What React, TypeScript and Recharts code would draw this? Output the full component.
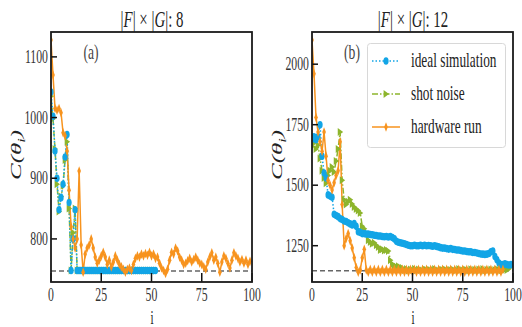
import { LineChart, Line, XAxis, YAxis, ReferenceLine } from 'recharts';

// ---- data ----
const LEFT_IDEAL = [1042, 1002, 945, 900, 848, 868, 890, 935, 972, 860, 748, 800, 848, 748,
  748, 748, 748, 748, 748, 748, 748, 748, 748, 748, 748, 748, 748, 748, 748, 748, 748, 748, 748,
  748, 748, 748, 748, 748, 748, 748, 748, 748, 748, 748, 748, 748, 748, 748, 748, 748, 748, 748, 748];
const LEFT_SHOT = [1035, 998, 948, 890, 845, 870, 888, 930, 960, 850, 748, 810, 850, 748,
  748, 748, 748, 748, 748, 748, 748, 748, 748, 748, 748, 748, 748, 748, 748, 748, 748, 748, 748,
  748, 748, 748, 748, 748, 748, 748, 748, 748, 748, 748, 748, 748, 748, 748, 748, 748, 748, 748, 748];
const LEFT_HW = [1128, 1070, 1015, 1012, 1015, 1008, 975, 970, 945, 880, 820, 800, 785, 800, 912,
  790, 745, 775, 785, 790, 800, 785, 770, 760, 765, 772, 778, 770, 758, 765, 754, 762, 772, 765,
  758, 754, 750, 745, 750, 752, 748, 758, 768, 772, 770, 775, 772, 776, 773, 778, 772, 775, 768,
  770, 760, 752, 748, 743, 750, 765, 778, 775, 785, 780, 770, 765, 758, 760, 764, 768, 762, 766,
  770, 765, 760, 758, 754, 750, 762, 770, 777, 765, 770, 760, 745, 762, 772, 768, 760, 752, 765,
  777, 772, 768, 762, 766, 760, 765, 758, 763];

const RIGHT_IDEAL = [1690, 1700, 1688, 1700, 1750, 1620, 1550, 1530, 1460, 1455, 1450, 1380, 1375,
  1370, 1362, 1358, 1352, 1350, 1345, 1340, 1336, 1342, 1330, 1308, 1305, 1300, 1300, 1298, 1298,
  1296, 1295, 1293, 1292, 1290, 1290, 1288, 1287, 1288, 1286, 1288, 1284, 1278, 1268, 1264, 1262,
  1260, 1258, 1255, 1252, 1250, 1250, 1252, 1250, 1250, 1252, 1250, 1252, 1250, 1251, 1250, 1248,
  1250, 1247, 1245, 1242, 1240, 1240, 1238, 1236, 1238, 1235, 1234, 1232, 1232, 1230, 1228, 1228,
  1226, 1225, 1225, 1222, 1222, 1220, 1218, 1216, 1215, 1214, 1215, 1218, 1225, 1228, 1205, 1192,
  1178, 1172, 1172, 1175, 1172, 1170, 1172];
const RIGHT_SHOT = [1660, 1675, 1650, 1665, 1610, 1560, 1530, 1508, 1540, 1560, 1575, 1555, 1600,
  1650, 1720, 1520, 1440, 1420, 1432, 1440, 1422, 1410, 1402, 1395, 1385, 1330, 1320, 1300, 1272,
  1265, 1258, 1262, 1252, 1245, 1232, 1235, 1230, 1232, 1228, 1190, 1172, 1168, 1163, 1165, 1160,
  1158, 1150, 1154, 1148, 1152, 1150, 1155, 1149, 1152, 1150, 1148, 1153, 1150, 1152, 1149, 1151,
  1154, 1150, 1148, 1152, 1150, 1153, 1149, 1151, 1150, 1152, 1148, 1150, 1154, 1151, 1149, 1152,
  1150, 1148, 1153, 1150, 1151, 1149, 1152, 1150, 1154, 1148, 1151, 1150, 1152, 1149, 1150, 1153,
  1151, 1148, 1150, 1152, 1150, 1155];
const RIGHT_HW = [2100, 1960, 1780, 1720, 1680, 1640, 1720, 1620, 1520, 1500, 1480, 1510, 1540,
  1560, 1680, 1420, 1250, 1280, 1300, 1270, 1240, 1200, 1160, 1140, 1150, 1200, 1235, 1150, 1140,
  1152, 1140, 1152, 1140, 1152, 1140, 1152, 1140, 1152, 1140, 1152, 1140, 1152, 1140, 1152, 1140,
  1152, 1140, 1152, 1140, 1152, 1140, 1152, 1140, 1152, 1140, 1152, 1140, 1152, 1140, 1152, 1140,
  1152, 1140, 1152, 1140, 1152, 1140, 1152, 1140, 1152, 1140, 1152, 1140, 1152, 1140, 1152, 1140,
  1152, 1140, 1152, 1140, 1152, 1140, 1152, 1140, 1152, 1140, 1152, 1140, 1152, 1140, 1152, 1140,
  1152, 1140, 1152];

const LEFT_MIN = 747;
const RIGHT_MIN = 1147;
const X_TICKS = [0, 25, 50, 75, 100];
const LEFT_Y_TICKS = [800, 900, 1000, 1100];
const RIGHT_Y_TICKS = [1250, 1500, 1750, 2000];
const LEFT_DOMAIN: [number, number] = [729, 1141];
const RIGHT_DOMAIN: [number, number] = [1100, 2133];
const SERIES_NAMES = ['ideal simulation', 'shot noise', 'hardware run'];

const BLUE = '#12a5e6';
const GREEN = '#8db52c';
const ORANGE = '#f7931e';
const FONT = 'Liberation Serif, serif';
const SQ = 0.62; // the figure is squeezed horizontally

const toPoints = (arr: number[]) => arr.map((v, i) => ({ i, v }));

// plot box of each panel, inside its 261x327 chart
const PLOT_LEFT = 51;
const PLOT_TOP = 32;
const PLOT_W = 201;
const PLOT_H = 250;
const PLOT_BOTTOM = PLOT_TOP + PLOT_H;

const circleDot = (p: any) =>
  p.cx == null ? null : <ellipse key={p.index} cx={p.cx} cy={p.cy} rx={2.6} ry={3.8} fill={BLUE} />;
const triDot = (p: any) =>
  p.cx == null ? null : (
    <polygon key={p.index} fill={GREEN}
      points={`${p.cx - 2.4},${p.cy - 4} ${p.cx + 3},${p.cy} ${p.cx - 2.4},${p.cy + 4}`} />
  );
const diaDot = (p: any) =>
  p.cx == null ? null : (
    <polygon key={p.index} fill={ORANGE}
      points={`${p.cx},${p.cy - 4.8} ${p.cx + 1.8},${p.cy} ${p.cx},${p.cy + 4.8} ${p.cx - 1.8},${p.cy}`} />
  );

const YTick = ({ y, payload }: any) => (
  <g>
    <line x1={PLOT_LEFT} x2={PLOT_LEFT + 6} y1={y} y2={y} stroke="#111" strokeWidth={1.5} />
    <text transform={`translate(${PLOT_LEFT - 3},${y + 6}) scale(${SQ},1)`} textAnchor="end"
      fontSize={19} fontFamily={FONT} fill="#333">{payload.value}</text>
  </g>
);

const XTick = ({ x, payload }: any) => (
  <g>
    <line x1={x} x2={x} y1={PLOT_BOTTOM} y2={PLOT_BOTTOM - 9} stroke="#111" strokeWidth={1.5} />
    <text transform={`translate(${x},${PLOT_BOTTOM + 19}) scale(${SQ},1)`} textAnchor="middle"
      fontSize={19} fontFamily={FONT} fill="#333">{payload.value}</text>
  </g>
);

const LegendBox = ({ x, y }: { x: number; y: number }) => {
  const rows = [
    { name: SERIES_NAMES[0], color: BLUE, dash: '1.5 2', dot: circleDot },
    { name: SERIES_NAMES[1], color: GREEN, dash: '6 2 1.5 2', dot: triDot },
    { name: SERIES_NAMES[2], color: ORANGE, dash: undefined, dot: diaDot },
  ];
  return (
    <g transform={`translate(${x},${y})`}>
      <rect x={0.5} y={0.5} width={138} height={104} rx={3} fill="#fff" fillOpacity={0.85} stroke="#d8d8d8" />
      {rows.map((r, k) => {
        const cy = 18 + k * 33;
        return (
          <g key={r.name}>
            <line x1={5} x2={33} y1={cy} y2={cy} stroke={r.color} strokeWidth={1.5} strokeDasharray={r.dash} />
            {r.dot({ cx: 19, cy, index: k })}
            <text transform={`translate(44,${cy + 6}) scale(${SQ},1)`} fontSize={21.5} fontFamily={FONT} fill="#222">
              {r.name}
            </text>
          </g>
        );
      })}
    </g>
  );
};

function Panel({ ideal, shot, hw, domain, yTicks, minLine }: any) {
  return (
    <LineChart width={261} height={327} margin={{ top: PLOT_TOP, right: 261 - PLOT_LEFT - PLOT_W, bottom: 0, left: 0 }}>
      <XAxis type="number" dataKey="i" domain={[0, 100]} ticks={X_TICKS} allowDataOverflow
        height={327 - PLOT_BOTTOM} tickLine={false} axisLine={false} tick={<XTick />} interval={0} />
      <YAxis type="number" domain={domain} ticks={yTicks} allowDataOverflow
        width={PLOT_LEFT} tickLine={false} axisLine={false} tick={<YTick />} interval={0} />
      <ReferenceLine y={minLine} stroke="#666" strokeWidth={1.5} strokeDasharray="5 3" />
      {/* shot noise drawn first so the ideal markers sit on top where they coincide */}
      <Line data={toPoints(shot)} dataKey="v" name={SERIES_NAMES[1]} stroke={GREEN} strokeWidth={1.5}
        strokeDasharray="6 2 1.5 2" dot={triDot} activeDot={false} isAnimationActive={false} />
      <Line data={toPoints(ideal)} dataKey="v" name={SERIES_NAMES[0]} stroke={BLUE} strokeWidth={1.5}
        strokeDasharray="1.5 2" dot={circleDot} activeDot={false} isAnimationActive={false} />
      <Line data={toPoints(hw)} dataKey="v" name={SERIES_NAMES[2]} stroke={ORANGE} strokeWidth={1.5}
        dot={diaDot} activeDot={false} isAnimationActive={false} />
    </LineChart>
  );
}

const Title = ({ cx, n }: { cx: number; n: number }) => (
  <text transform={`translate(${cx},27) scale(${SQ},1)`} textAnchor="middle" fontSize={24} fontFamily={FONT} fill="#222">
    |<tspan fontStyle="italic">F</tspan>| × |<tspan fontStyle="italic">G</tspan>|: {n}
  </text>
);

const YLabel = ({ cx }: { cx: number }) => (
  <text transform={`translate(${cx},155) rotate(-90) scale(1,${SQ})`} textAnchor="middle" dy="0.35em"
    fontSize={25} fontFamily={FONT} fontStyle="italic" fill="#222">
    C(θ<tspan fontSize={16} dy={5}>i</tspan><tspan dy={-5}>)</tspan>
  </text>
);

export default function App() {
  return (
    <div style={{ position: 'absolute', left: 0, top: 0, width: 522, height: 327, background: '#fff' }}>
      <div style={{ position: 'absolute', left: 0, top: 0 }}>
        <Panel ideal={LEFT_IDEAL} shot={LEFT_SHOT} hw={LEFT_HW} domain={LEFT_DOMAIN}
          yTicks={LEFT_Y_TICKS} minLine={LEFT_MIN} />
      </div>
      <div style={{ position: 'absolute', left: 261, top: 0 }}>
        <Panel ideal={RIGHT_IDEAL} shot={RIGHT_SHOT} hw={RIGHT_HW} domain={RIGHT_DOMAIN}
          yTicks={RIGHT_Y_TICKS} minLine={RIGHT_MIN} />
      </div>
      <svg width={522} height={327} style={{ position: 'absolute', left: 0, top: 0, pointerEvents: 'none' }}>
        {[0, 261].map((ox) => (
          <rect key={ox} x={ox + PLOT_LEFT} y={PLOT_TOP} width={PLOT_W} height={PLOT_H}
            fill="none" stroke="#1a1a1a" strokeWidth={1.8} />
        ))}
        <Title cx={152} n={8} />
        <Title cx={413} n={12} />
        <text transform={`translate(91,59) scale(${SQ},1)`} textAnchor="middle" fontSize={22} fontFamily={FONT} fill="#444">(a)</text>
        <text transform={`translate(352,59) scale(${SQ},1)`} textAnchor="middle" fontSize={22} fontFamily={FONT} fill="#444">(b)</text>
        <YLabel cx={16} />
        <YLabel cx={277} />
        <text transform={`translate(152,324) scale(${SQ},1)`} textAnchor="middle" fontSize={18} fontFamily={FONT} fill="#222">i</text>
        <text transform={`translate(413,324) scale(${SQ},1)`} textAnchor="middle" fontSize={18} fontFamily={FONT} fill="#222">i</text>
        <LegendBox x={367} y={43} />
      </svg>
    </div>
  );
}
